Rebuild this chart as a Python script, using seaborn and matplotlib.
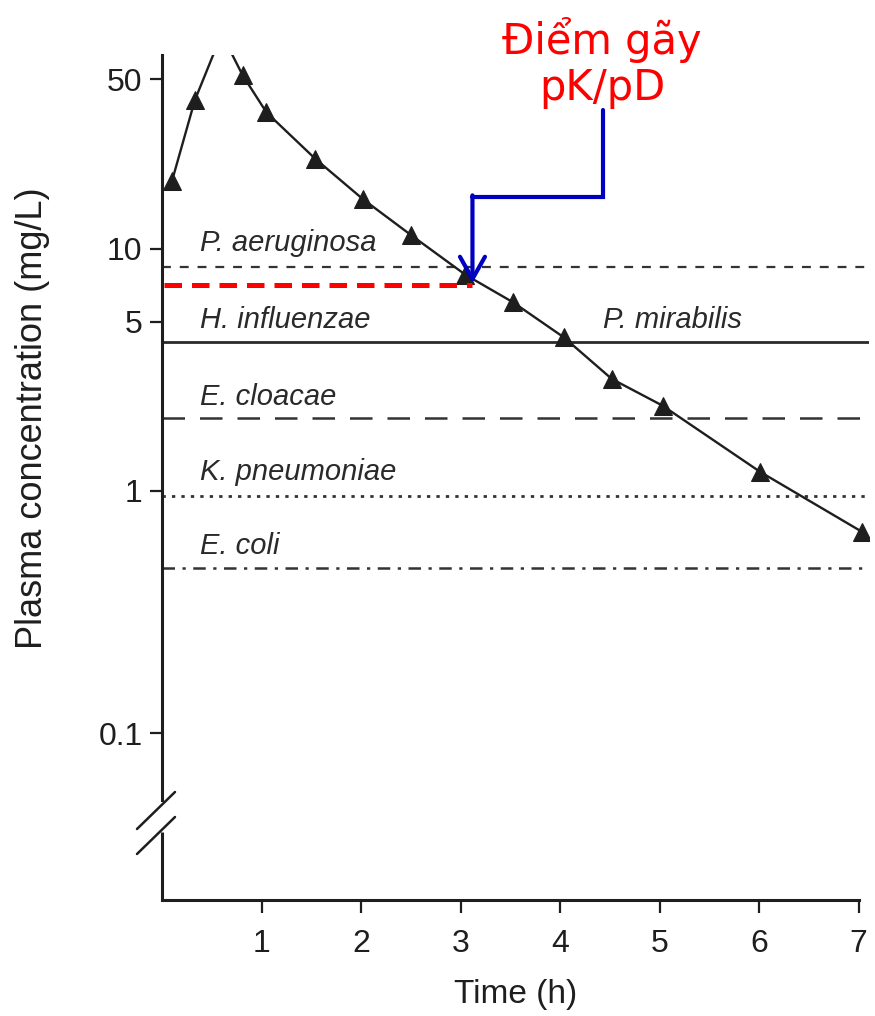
import numpy as np
import pandas as pd
import matplotlib
matplotlib.use("Agg")
import matplotlib.pyplot as plt
from matplotlib.lines import Line2D
import seaborn as sns

# ---------------- data ----------------
time_h = [0.10, 0.33, 0.60, 0.81, 1.05, 1.54, 2.02, 2.50, 3.05, 3.53, 4.04, 4.52, 5.03, 6.01, 7.03]
conc = [19.0, 41.0, 77.0, 52.0, 36.5, 23.5, 16.0, 11.4, 7.8, 6.0, 4.3, 2.9, 2.25, 1.2, 0.68]

species = ["P. aeruginosa", "H. influenzae", "E. cloacae", "K. pneumoniae", "E. coli"]
mic_values = [8.4, 4.1, 2.0, 0.95, 0.48]
label_y = [10.6, 5.1, 2.45, 1.2, 0.59]
extra_label = "P. mirabilis"

yticks = [0.1, 1, 5, 10, 50]
ytick_labels = ["0.1", "1", "5", "10", "50"]
xticks = [1, 2, 3, 4, 5, 6, 7]

breakpoint_conc = 7.1
breakpoint_time = 3.12
annot_title = "Điểm gãy\npK/pD"

# ---------------- figure ----------------
sns.set_style("ticks")
plt.rcParams['font.family'] = ['Liberation Sans', 'DejaVu Sans']

W, H = 875, 1016
fig = plt.figure(figsize=(W / 100, H / 100), dpi=100)
ax_left, ax_bottom = 162 / W, 116 / H
ax_w, ax_h = 706.5 / W, 845 / H
ax = fig.add_axes([ax_left, ax_bottom, ax_w, ax_h])

ax.set_yscale("log")
ax.set_xlim(0, 7.1)
ylo, yhi = 0.0205, 63
ax.set_ylim(ylo, yhi)

ink = "#1e1e1e"

# MIC lines
styles = [
    dict(ls=(0, (4, 4)), lw=1.6, color="#333333"),
    dict(ls="-", lw=2.0, color="#2a2a2a"),
    dict(ls=(0, (9, 6)), lw=1.8, color="#333333"),
    dict(ls=(0, (1.2, 2.2)), lw=2.0, color="#333333"),
    dict(ls=(0, (5, 3, 1.3, 3)), lw=1.8, color="#333333"),
]
for val, st in zip(mic_values, styles):
    ax.axhline(val, xmin=0, xmax=1, **st)

# concentration curve
df = pd.DataFrame({"time": time_h, "conc": conc})
sns.lineplot(data=df, x="time", y="conc", ax=ax, color=ink, lw=1.7,
             marker="^", markersize=13, markeredgecolor=ink, markerfacecolor=ink,
             sort=False, estimator=None)

# species labels
for name, ly in zip(species, label_y):
    ax.text(0.38, ly, name, fontsize=21, style="italic", color="#2a2a2a",
            va="center", ha="left")
ax.text(4.43, label_y[1], extra_label, fontsize=21, style="italic",
        color="#2a2a2a", va="center", ha="left")

# red dashed breakpoint line
ax.plot([0.02, breakpoint_time], [breakpoint_conc, breakpoint_conc],
        color="#ff0000", lw=3.6, ls=(0, (3.5, 2)), solid_capstyle="butt")

# blue arrow
ax.plot([4.43, 4.43, breakpoint_time], [37.4, 16.3, 16.3], color="#0000c0",
        lw=3.0, solid_joinstyle="miter", clip_on=False)
ax.annotate("", xy=(breakpoint_time, 7.2), xytext=(breakpoint_time, 16.6),
            arrowprops=dict(arrowstyle="->,head_length=0.8,head_width=0.45",
                            mutation_scale=20,
                            color="#0000c0", lw=3.0, shrinkA=0, shrinkB=0))

# annotation title
fig.text(602 / W, 1 - 63 / H, annot_title, color="#ff0000", fontsize=30,
         ha="center", va="center", family=["DejaVu Sans"], linespacing=1.15)

# axes styling
sns.despine(ax=ax)
for s in ["left", "bottom"]:
    ax.spines[s].set_linewidth(2.2)
    ax.spines[s].set_color(ink)
ax.spines["bottom"].set_bounds(0, 7.0)
# break in the y axis
y_break_top = 10 ** (np.log10(ylo) + (900 - 800) / 242.3)
y_break_bot = 10 ** (np.log10(ylo) + (900 - 832) / 242.3)
ax.spines["left"].set_bounds(y_break_top, yhi)
ax.plot([0, 0], [ylo, y_break_bot], color=ink, lw=2.2, clip_on=False,
        solid_capstyle="butt")
for y0 in (792, 817):
    fig.add_artist(Line2D([175 / W, 137 / W], [1 - y0 / H, 1 - (y0 + 37) / H],
                          color=ink, lw=1.8))

ax.set_yticks(yticks)
ax.set_yticklabels(ytick_labels)
ax.yaxis.set_minor_locator(matplotlib.ticker.NullLocator())
ax.set_xticks(xticks)
ax.set_xticklabels([str(t) for t in xticks])
ax.tick_params(axis="both", labelsize=23, colors=ink, direction="out",
               length=9, width=1.6)
ax.tick_params(axis="x", pad=12)
ax.tick_params(axis="y", pad=5)

ax.set_xlabel("Time (h)", fontsize=24, color=ink, va="center")
ax.set_ylabel("Plasma concentration (mg/L)", fontsize=26, color=ink, va="center")
ax.xaxis.set_label_coords((516 - 162) / 706.5, (900 - 995) / 845)
ax.yaxis.set_label_coords((33 - 162) / 706.5, (900 - 418) / 845)

fig.savefig("out.png", dpi=100, facecolor="white")
